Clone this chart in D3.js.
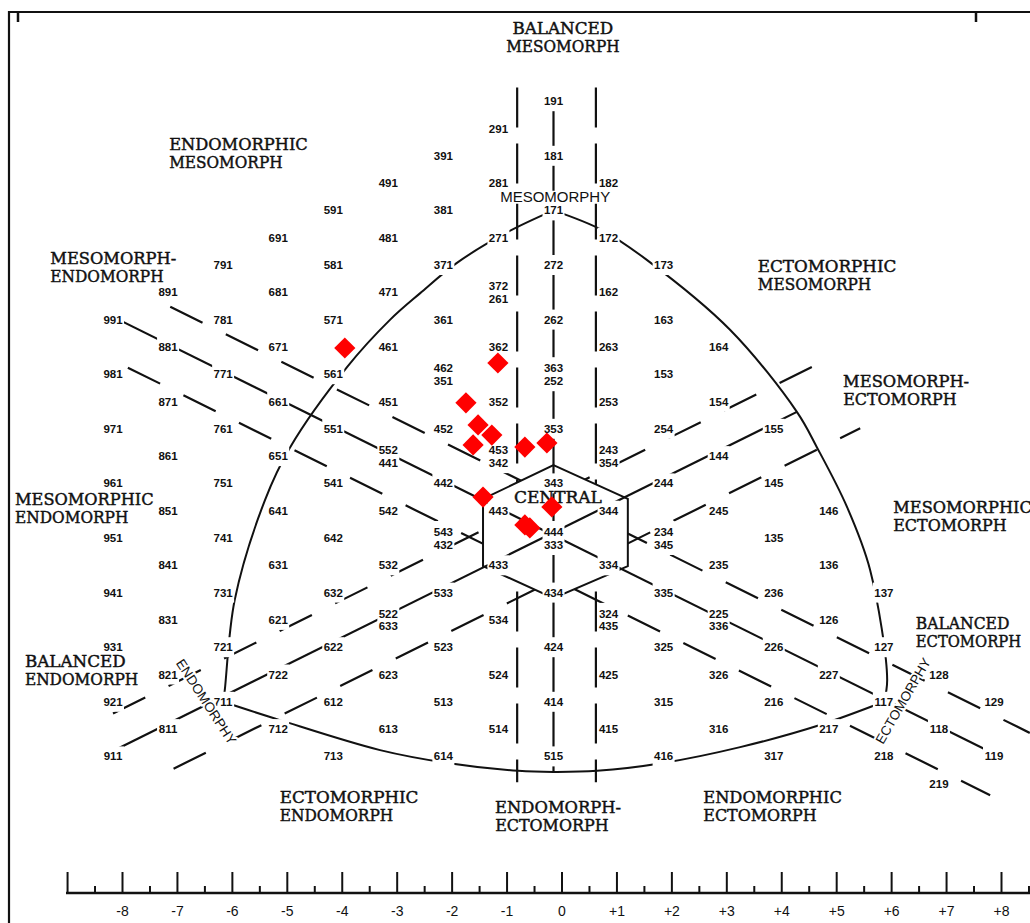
<!DOCTYPE html>
<html>
<head>
<meta charset="utf-8">
<script src="https://cdn.jsdelivr.net/npm/d3@7"></script>
<style>
  body { margin: 0; background: #fff; }
  svg { display: block; }
</style>
</head>
<body>
<div id="chart"></div>
<script>
// somatotype codes (endo, meso, ecto); "a/b" = two codes printed on the same spot
const somatotypes = [
  "191",
  "291", "181",
  "391",
  "281", "182", "491",
  "591", "381", "171",
  "691", "481", "271", "172",
  "791", "581", "371", "272", "173",
  "891", "681", "471", "372/261", "162",
  "991", "781", "571", "361", "262", "163",
  "881", "671", "461", "362", "263", "164",
  "981", "771", "561", "462/351", "363/252", "153",
  "871", "661", "451", "352", "253", "154",
  "971", "761", "551", "452", "353", "254", "155",
  "861", "651", "552/441", "453/342", "243/354", "144",
  "961", "751", "541", "442", "343", "244", "145",
  "851", "641", "542", "443", "344", "245", "146",
  "951", "741", "642", "543/432", "444/333", "234/345", "135",
  "841", "631", "532", "433", "334", "235", "136",
  "941", "731", "632", "533", "434", "335", "236", "137",
  "831", "621", "522/633", "534", "324/435", "225/336", "126",
  "931", "721", "622", "523", "424", "325", "226", "127",
  "821", "722", "623", "524", "425", "326", "227", "128",
  "921", "711", "612", "513", "414", "315", "216", "117", "129",
  "811", "712", "613", "514", "415", "316", "217", "118",
  "911", "713", "614", "515", "416", "317", "218", "119",
  "219"
];

// plotted subjects, somatochart units (X = ecto - endo, Y = 2*meso - endo - ecto)
const pointsX = [-3.79, -1.01, -1.59, -1.37, -1.12, -1.46, -0.52, -0.12, -1.28, -0.03, -0.52, -0.43];
const pointsY = [6.96, 6.41, 4.95, 4.14, 3.77, 3.41, 3.33, 3.48, 1.50, 1.14, 0.48, 0.37];

// outline of the chart in X/Y units
const leftArc = [[0, 12], [-0.83, 11.21], [-1.76, 10.07], [-2.42, 8.97], [-2.97, 7.99], [-3.75, 6.26],
  [-4.79, 3.3], [-5.24, 1.39], [-5.79, -2.27], [-5.97, -5.57], [-6, -6]];
const rightArc = [[0, 12], [0.88, 11.28], [1.7, 10.18], [3.21, 7.62], [4.42, 4.62], [4.79, 3.3],
  [5.33, 1.14], [5.75, -1.17], [6.06, -5.2], [6, -6]];
const bottomArc = [[-6, -6], [-4.97, -6.67], [-3.15, -7.77], [-1.93, -8.24], [-0.64, -8.53], [0, -8.57],
  [0.79, -8.53], [1.99, -8.24], [3.39, -7.66], [4.84, -6.85], [6, -6]];
const hexagon = [[0, 2.67], [1.35, 1.43], [1.35, -1.03], [0, -2.2], [-1.28, -1.03], [-1.28, 1.43]];

// the three axes through the centre
const axisLines = [
  [[0, 16], [0, -8.57]],
  [[-8, 8.1], [8, -7.9]],
  [[-8, -7.8], [4.42, 4.62]]
];
// dashed borders of the bands along each axis
const bandLines = [
  [[-0.66, 16.5], [-0.66, -8.95]],
  [[0.77, 16.5], [0.77, -8.95]],
  [[-6.96, 8.47], [8.65, -7.14]],
  [[-7.73, 6.24], [7.93, -9.42]],
  [[-8, -6.43], [4.84, 6.41]],
  [[-6.9, -8.45], [5.57, 4.02]]
];

const regionNames = [
  ["BALANCED", "MESOMORPH"],
  ["ENDOMORPHIC", "MESOMORPH"],
  ["MESOMORPH-", "ENDOMORPH"],
  ["ECTOMORPHIC", "MESOMORPH"],
  ["MESOMORPH-", "ECTOMORPH"],
  ["MESOMORPHIC", "ENDOMORPH"],
  ["MESOMORPHIC", "ECTOMORPH"],
  ["BALANCED", "ECTOMORPH"],
  ["BALANCED", "ENDOMORPH"],
  ["ECTOMORPHIC", "ENDOMORPH"],
  ["ENDOMORPH-", "ECTOMORPH"],
  ["ENDOMORPHIC", "ECTOMORPH"]
];
const scaleTicks = d3.range(-9, 9);

// --- layout ---
const W = 1030, H = 923;
const regionLayout = [
  { x: 0.17, y: 18.68, anchor: "middle" },
  { x: -6.98, y: 14.43 }, { x: -9.14, y: 10.26 }, { x: 3.71, y: 9.96 },
  { x: 5.26, y: 5.75 }, { x: -9.78, y: 1.43 }, { x: 6.17, y: 1.14 },
  { x: 6.58, y: -3.11, ch: 11.7 }, { x: -9.6, y: -4.5 }, { x: -4.97, y: -9.49 },
  { x: -1.06, y: -9.85 }, { x: 2.72, y: -9.49 }
];

const svg = d3.select("#chart").append("svg")
  .attr("width", W)
  .attr("height", H);

const x = d3.scaleLinear().domain([-8, 8]).range([113, 994]);
const y = d3.scaleLinear().domain([0, 16]).range([538, 101.2]);
const line = d3.line().x(d => x(d[0])).y(d => y(d[1]));
const curve = d3.line().x(d => x(d[0])).y(d => y(d[1])).curve(d3.curveCatmullRom);
const ink = "#111";
const sans = "'Liberation Sans', Arial, sans-serif";
const serif = "'DejaVu Serif', 'Liberation Serif', serif";

// frame
svg.append("path")
  .attr("d", `M9,${H}V12H${W}`)
  .attr("fill", "none").attr("stroke", ink).attr("stroke-width", 2.2);
svg.append("path")
  .attr("d", "M18,12v10M976,12v10")
  .attr("stroke", ink).attr("stroke-width", 2.5);

// arcs
svg.append("g").selectAll("path")
  .data([leftArc, rightArc, bottomArc])
  .join("path")
  .attr("d", curve)
  .attr("fill", "none").attr("stroke", ink).attr("stroke-width", 2);

// dashed band borders
svg.append("g").selectAll("path")
  .data(bandLines)
  .join("path")
  .attr("d", line)
  .attr("fill", "none").attr("stroke", ink).attr("stroke-width", 2.2)
  .attr("stroke-dasharray", (d, i) => i < 2 ? "40,16" : "36,26");

// central hexagon (hides the bands inside it)
svg.append("path")
  .attr("d", line(hexagon) + "Z")
  .attr("fill", "#fff").attr("stroke", ink).attr("stroke-width", 2);

svg.append("g").selectAll("path")
  .data(axisLines)
  .join("path")
  .attr("d", line)
  .attr("fill", "none").attr("stroke", ink).attr("stroke-width", 2.2);

// somatotype numbers, each on a white patch that breaks the lines
const lab = svg.append("g")
  .attr("font-family", sans)
  .attr("font-weight", "bold")
  .attr("font-size", 11.5)
  .attr("fill", ink)
  .selectAll("g")
  .data(somatotypes)
  .join("g")
  .attr("transform", d => {
    const [e, m, c] = d.slice(0, 3).split("").map(Number);
    return `translate(${x(c - e)},${y(2 * m - e - c)})`;
  });

lab.append("rect")
  .attr("x", -11)
  .attr("y", d => d.includes("/") ? -17 : -10)
  .attr("width", 22)
  .attr("height", d => d.includes("/") ? 34 : 20)
  .attr("fill", "#fff");

lab.each(function(d) {
  const parts = d.split("/");
  d3.select(this).selectAll("text")
    .data(parts)
    .join("text")
    .attr("text-anchor", "middle")
    .attr("y", (p, i) => parts.length > 1 ? (i ? 10.5 : -2) : 4)
    .text(p => p);
});

// MESOMORPHY sits between the 18x and 17x rows
const meso = svg.append("g").attr("transform", `translate(${x(0.03)},${y(12.5)})`);
meso.append("rect").attr("x", -57).attr("y", -6).attr("width", 114).attr("height", 13).attr("fill", "#fff");
meso.append("text")
  .attr("text-anchor", "middle").attr("dominant-baseline", "central")
  .attr("font-family", sans).attr("font-size", 15).attr("fill", ink)
  .text("MESOMORPHY");

// category names
regionNames.forEach((lines, i) => {
  const pos = regionLayout[i];
  const t = svg.append("text")
    .attr("font-family", serif)
    .attr("font-size", 16)
    .attr("fill", ink)
    .attr("stroke", ink).attr("stroke-width", 0.45)
    .attr("text-anchor", pos.anchor || "start")
    .attr("dominant-baseline", "central");
  lines.forEach((s, j) => {
    t.append("tspan")
      .attr("x", x(pos.x))
      .attr("y", y(pos.y) + j * 18)
      .attr("textLength", s.length * (pos.ch || 12.6))
      .attr("lengthAdjust", "spacingAndGlyphs")
      .text(s);
  });
});

// CENTRAL
svg.append("text")
  .attr("x", x(0.08)).attr("y", y(1.5))
  .attr("text-anchor", "middle").attr("dominant-baseline", "central")
  .attr("font-family", serif).attr("font-size", 16)
  .attr("textLength", 88).attr("lengthAdjust", "spacingAndGlyphs")
  .attr("fill", ink).attr("stroke", ink).attr("stroke-width", 0.45)
  .text("CENTRAL");

// axis names along the arcs
[["ENDOMORPHY", -6.31, -6.0, 57], ["ECTOMORPHY", 6.35, -5.97, -60]].forEach(([s, px, py, a]) => {
  svg.append("text")
    .attr("transform", `translate(${x(px)},${y(py)}) rotate(${a})`)
    .attr("text-anchor", "middle").attr("dominant-baseline", "central")
    .attr("font-family", sans).attr("font-size", 13.5).attr("fill", ink)
    .attr("stroke", "#fff").attr("stroke-width", 4).attr("paint-order", "stroke")
    .text(s);
});

// subjects
svg.append("g").selectAll("path")
  .data(pointsX)
  .join("path")
  .attr("d", d3.symbol(d3.symbolSquare, 225))
  .attr("transform", (d, i) => `translate(${x(d)},${y(pointsY[i])}) rotate(45)`)
  .attr("fill", "#ff0000");

// bottom scale
const xa = d3.scaleLinear().domain([-8, 8]).range([122, 1001]);
const axisY = 893;
svg.append("line")
  .attr("x1", 66).attr("x2", W).attr("y1", axisY).attr("y2", axisY)
  .attr("stroke", ink).attr("stroke-width", 2.5);

const gMajor = svg.append("g")
  .attr("transform", `translate(0,${axisY})`)
  .call(d3.axisBottom(xa)
    .tickValues(scaleTicks)
    .tickSize(-21)
    .tickPadding(13)
    .tickFormat(d => d < -8 ? "" : d > 0 ? "+" + d : String(d)));
gMajor.select(".domain").remove();
gMajor.selectAll("line").attr("stroke", ink).attr("stroke-width", 2);
gMajor.selectAll("text")
  .attr("font-family", sans).attr("font-size", 14).attr("fill", ink);

const gMinor = svg.append("g")
  .attr("transform", `translate(0,${axisY})`)
  .call(d3.axisBottom(xa)
    .tickValues(scaleTicks.map(d => d + 0.5))
    .tickSize(-7)
    .tickFormat(""));
gMinor.select(".domain").remove();
gMinor.selectAll("line").attr("stroke", ink).attr("stroke-width", 2);
</script>
</body>
</html>
